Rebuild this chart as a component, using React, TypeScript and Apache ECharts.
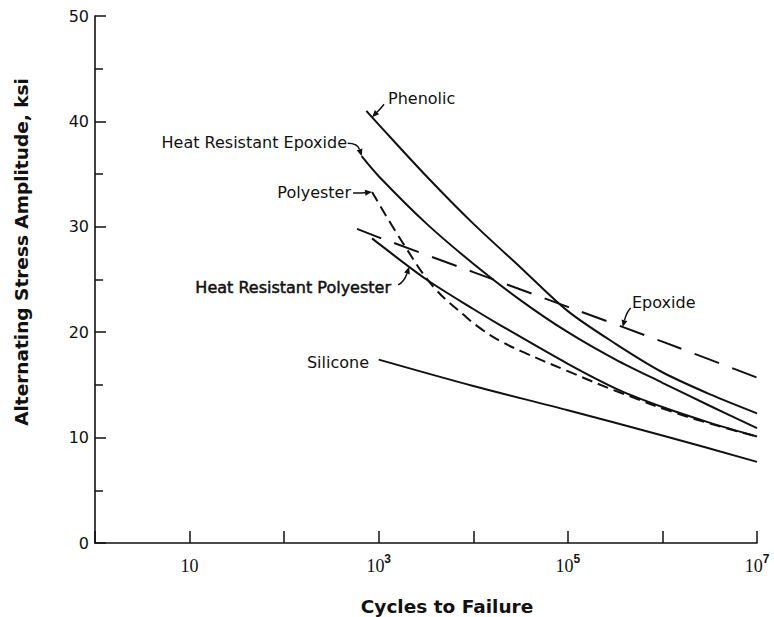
import React, { useEffect, useRef } from "react";
import * as echarts from "echarts";

// Fatigue (S-N) curves for glass-reinforced plastics: cycles vs. stress amplitude (ksi)
const cyclesPhenolic = [740, 1e3, 3.2e3, 1e4, 3.2e4, 1e5, 3.2e5, 1e6, 3.2e6, 1e7];
const stressPhenolic = [41.0, 39.7, 34.8, 30.3, 26.1, 22.0, 18.9, 16.2, 14.1, 12.3];

const cyclesHrEpoxide = [660, 1e3, 3.2e3, 1e4, 3.2e4, 1e5, 3.2e5, 1e6, 3.2e6, 1e7];
const stressHrEpoxide = [36.7, 34.8, 30.3, 26.5, 23.0, 20.0, 17.4, 15.2, 13.0, 10.9];

const cyclesPolyester = [850, 1.82e3, 3.8e3, 8.5e3, 1.26e4, 1.9e4, 3.2e4, 1e5, 3.5e5, 1.8e6, 1e7];
const stressPolyester = [33.3, 28.4, 24.3, 21.4, 20.2, 19.2, 18.2, 16.3, 14.3, 12.0, 10.1];

const cyclesHrPolyester = [850, 1e3, 3.2e3, 1e4, 1.9e4, 1e5, 3.5e5, 1e6, 3.2e6, 1e7];
const stressHrPolyester = [28.9, 28.4, 25.0, 22.2, 20.7, 17.0, 14.5, 12.9, 11.4, 10.1];

const cyclesEpoxide = [590, 1e3, 1e4, 1e5, 1e6, 1e7];
const stressEpoxide = [29.8, 29.0, 25.7, 22.4, 19.1, 15.7];

const cyclesSilicone = [1e3, 1e4, 1e5, 1e6, 1e7];
const stressSilicone = [17.4, 14.9, 12.6, 10.2, 7.7];

// decades that carry a printed label on the cycles axis
const labelledExponents = [1, 3, 5, 7];
const stressTicks = [0, 10, 20, 30, 40, 50];

const INK = "#111";
const SANS = "DejaVu Sans";

const pairs = (xs: number[], ys: number[]) => xs.map((x, i) => [x, ys[i]]);

const curve = (name: string, xs: number[], ys: number[], dash: "solid" | number[], smooth = 0.3) => ({
  name,
  type: "line",
  data: pairs(xs, ys),
  smooth,
  symbol: "none",
  silent: true,
  lineStyle: { color: INK, width: 2, type: dash },
});

// callouts: text placement (px) and the point on the curve the arrow touches
type Callout = {
  text: string;
  x: number;
  y: number;
  align: "left" | "right";
  tip?: [number, number];
  tail?: [number, number]; // tail offset from the tip, px
  bend?: [number, number]; // control point offset from the tail, px
  heavy?: boolean;
};

const callouts: Callout[] = [
  { text: "Phenolic", x: 388, y: 98, align: "left", tip: [850, 40.4], tail: [12, -13], bend: [-3, 4] },
  { text: "Heat Resistant Epoxide", x: 347, y: 142, align: "right", tip: [cyclesHrEpoxide[0], stressHrEpoxide[0]], tail: [-14, -13], bend: [10, 0] },
  { text: "Polyester", x: 351, y: 192, align: "right", tip: [cyclesPolyester[0], stressPolyester[0]], tail: [-19, 1], bend: [10, 0] },
  { text: "Heat Resistant Polyester", x: 391, y: 287, align: "right", tip: [2100, 26.2], tail: [-11, 18], bend: [6, -3], heavy: true },
  { text: "Silicone", x: 369, y: 362, align: "right" },
  { text: "Epoxide", x: 632, y: 302, align: "left", tip: [3.8e5, 20.5], tail: [8, -19], bend: [-4, 4] },
];

export default function App() {
  const ref = useRef<HTMLDivElement>(null);

  useEffect(() => {
    if (!ref.current) return;
    const chart = echarts.init(ref.current, undefined, { renderer: "svg" });

    chart.setOption({
      animation: false,
      backgroundColor: "#fff",
      grid: { left: 95, right: 17, top: 16, bottom: 74, containLabel: false },
      xAxis: {
        type: "log",
        logBase: 10,
        min: 1,
        max: 1e7,
        axisLine: { lineStyle: { color: INK, width: 1.6 } },
        axisTick: { show: true, inside: true, length: 12, lineStyle: { color: INK, width: 1.5 } },
        splitLine: { show: false },
        axisLabel: {
          margin: 10,
          formatter: (v: number) => {
            const e = Math.round(Math.log10(v));
            if (!labelledExponents.includes(e)) return "";
            return e === 1 ? "{b|10}" : `{b|10}{s|${e}}`;
          },
          rich: {
            b: { fontFamily: "Liberation Serif", fontSize: 18, color: INK, lineHeight: 22, verticalAlign: "bottom" },
            s: { fontFamily: "Liberation Sans", fontWeight: "bold", fontSize: 12, color: INK, lineHeight: 9, verticalAlign: "top" },
          },
        },
      },
      yAxis: {
        type: "value",
        min: stressTicks[0],
        max: stressTicks[stressTicks.length - 1],
        interval: 10,
        axisLine: { show: true, lineStyle: { color: INK, width: 1.6 } },
        axisTick: { show: true, inside: true, length: 11, lineStyle: { color: INK, width: 1.5 } },
        minorTick: { show: true, splitNumber: 2, length: 8, lineStyle: { color: INK, width: 1.5 } },
        splitLine: { show: false },
        axisLabel: { margin: 6, fontFamily: SANS, fontSize: 16, color: INK },
      },
      series: [
        curve("Phenolic", cyclesPhenolic, stressPhenolic, "solid"),
        curve("Heat Resistant Epoxide", cyclesHrEpoxide, stressHrEpoxide, "solid"),
        curve("Polyester", cyclesPolyester, stressPolyester, [11, 6], 0.4),
        curve("Heat Resistant Polyester", cyclesHrPolyester, stressHrPolyester, "solid"),
        curve("Epoxide", cyclesEpoxide, stressEpoxide, [26, 14]),
        curve("Silicone", cyclesSilicone, stressSilicone, "solid"),
      ],
    });

    const elements: any[] = [];
    for (const c of callouts) {
      elements.push({
        type: "text",
        x: c.x,
        y: c.y,
        silent: true,
        style: {
          text: c.text,
          fontFamily: SANS,
          fontSize: 16,
          fill: INK,
          align: c.align,
          verticalAlign: "middle",
          ...(c.heavy ? { stroke: INK, lineWidth: 0.5 } : {}),
        },
      });
      if (c.tip && c.tail && c.bend) {
        const [tx, ty] = chart.convertToPixel({ xAxisIndex: 0, yAxisIndex: 0 }, c.tip) as number[];
        const sx = tx + c.tail[0];
        const sy = ty + c.tail[1];
        const cx = sx + c.bend[0];
        const cy = sy + c.bend[1];
        const ang = Math.atan2(ty - cy, tx - cx);
        const L = 7;
        const W = 3;
        const bx = tx - L * Math.cos(ang);
        const by = ty - L * Math.sin(ang);
        const nx = -Math.sin(ang) * W;
        const ny = Math.cos(ang) * W;
        elements.push({
          type: "bezierCurve",
          silent: true,
          shape: { x1: sx, y1: sy, x2: bx, y2: by, cpx1: cx, cpy1: cy },
          style: { stroke: INK, lineWidth: 1.5, fill: null },
        });
        elements.push({
          type: "polygon",
          silent: true,
          shape: { points: [[tx, ty], [bx + nx, by + ny], [bx - nx, by - ny]] },
          style: { fill: INK },
        });
      }
    }

    // axis titles
    elements.push({
      type: "text",
      x: 21,
      y: 252,
      rotation: Math.PI / 2,
      silent: true,
      style: {
        text: "Alternating Stress Amplitude, ksi",
        fontFamily: SANS,
        fontWeight: "bold",
        fontSize: 18.5,
        fill: INK,
        align: "center",
        verticalAlign: "middle",
      },
    });
    elements.push({
      type: "text",
      x: 447,
      y: 606,
      silent: true,
      style: {
        text: "Cycles to Failure",
        fontFamily: SANS,
        fontWeight: "bold",
        fontSize: 18.5,
        fill: INK,
        align: "center",
        verticalAlign: "middle",
      },
    });

    chart.setOption({ graphic: { elements } });

    return () => chart.dispose();
  }, []);

  return (
    <div
      ref={ref}
      style={{ position: "absolute", left: 0, top: 0, width: 774, height: 617, background: "#fff" }}
    />
  );
}
